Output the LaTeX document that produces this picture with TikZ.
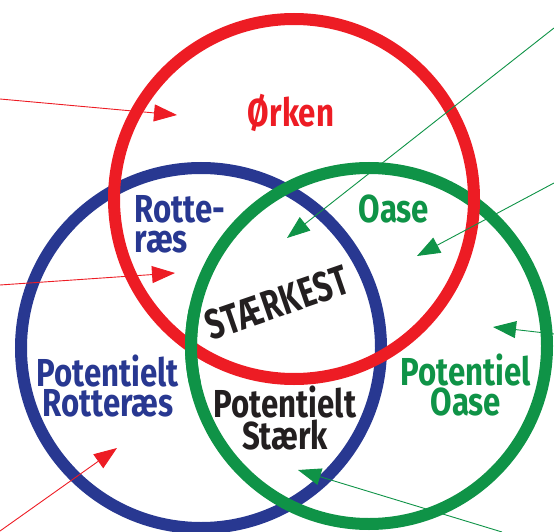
\documentclass[tikz,border=0pt]{standalone}
\usepackage{fontspec}
\newfontfamily\hand[FakeStretch=0.8]{Fira Sans}
\newfontfamily\handsp[FakeStretch=0.72,LetterSpace=2]{Fira Sans}
\usetikzlibrary{arrows.meta,calc}
\definecolor{vred}{HTML}{ED1C24}
\definecolor{vblue}{HTML}{283891}
\definecolor{vgreen}{HTML}{0F9347}
\definecolor{vblack}{HTML}{231F20}
\begin{document}
\begin{tikzpicture}[x=1pt,y=-1pt,
  ring/.style={line width=12pt},
  pointer/.style={line width=0.9pt,-{Triangle[length=23pt,width=17pt]}},
  lbl/.style={font=\hand\bfseries\fontsize{39}{30}\selectfont, align=center, inner sep=0pt}]
\useasboundingbox (0,0) rectangle (554,532);
% circle centres
\coordinate (R) at (294,199);
\coordinate (B) at (201,348);
\coordinate (G) at (369,346);
% rings
\draw[ring,vblue] (B) circle[radius=180pt];
\draw[ring,vgreen] (G) circle[radius=178pt];
\draw[ring,vred] (R) circle[radius=180pt];
\draw[ring,vgreen] ($(G)+(168:178pt)$) arc[start angle=168,end angle=192,radius=178pt];
% labels
\node[lbl,vred] (orken) at (291,113) {Ørken};
\node[lbl,vblue,align=left] (rotteraes) at (180,224) {Rotte-\\ræs};
\node[lbl,vgreen] (oase) at (394,209) {Oase};
\node[lbl,vblack,rotate=19,font=\handsp\bfseries\fontsize{42}{30}\selectfont] (staerkest) at (277,303) {STÆRKEST};
\node[lbl,vblue] (potrot) at (108,386) {Potentielt\\Rotteræs};
\node[lbl,vblack] (potst) at (285,418) {Potentielt\\Stærk};
\node[lbl,vgreen] (potoase) at (466,385) {Potentiel\\Oase};
% arrow ends
\coordinate (r1s) at (0,99);    \coordinate (r1e) at (177,115);
\coordinate (r2s) at (0,285);   \coordinate (r2e) at (175,273);
\coordinate (r3s) at (0,531);   \coordinate (r3e) at (117,448);
\coordinate (g1s) at (554,28);  \coordinate (g1e) at (287,238);
\coordinate (g2s) at (554,183); \coordinate (g2e) at (417,256);
\coordinate (g3s) at (554,334); \coordinate (g3e) at (493,327);
\coordinate (g4s) at (502,532); \coordinate (g4e) at (298,470);
% arrows
\draw[pointer,vred] (r1s) -- (r1e);
\draw[pointer,vred] (r2s) -- (r2e);
\draw[pointer,vred] (r3s) -- (r3e);
\draw[pointer,vgreen] (g1s) -- (g1e);
\draw[pointer,vgreen] (g2s) -- (g2e);
\draw[pointer,vgreen] (g3s) -- (g3e);
\draw[pointer,vgreen] (g4s) -- (g4e);
\end{tikzpicture}
\end{document}
